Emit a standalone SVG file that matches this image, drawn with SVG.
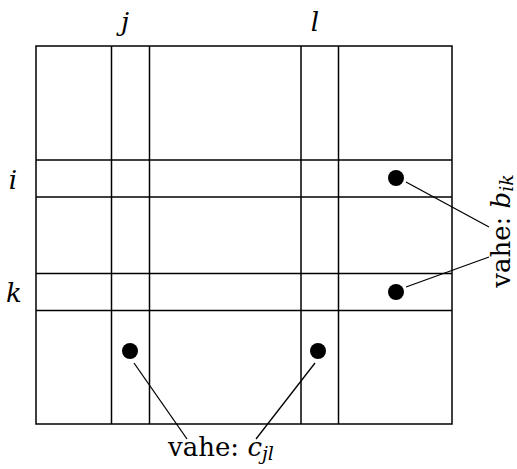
<svg xmlns="http://www.w3.org/2000/svg" width="517" height="469" viewBox="0 0 517 469">
<style>
.g{fill:none;stroke:#000;stroke-width:1.5}
.c{stroke:#000;stroke-width:1.3}
.t{font-family:"DejaVu Serif","Liberation Serif",serif;font-size:26px;fill:#000}
.i{font-style:italic}
</style>
<rect width="517" height="469" fill="#fff"/>
<g id="matrix">
<rect class="g" x="36" y="46" width="416" height="378"/>
<line class="g" x1="111.5" y1="46" x2="111.5" y2="424"/>
<line class="g" x1="149.5" y1="46" x2="149.5" y2="424"/>
<line class="g" x1="301" y1="46" x2="301" y2="424"/>
<line class="g" x1="338.5" y1="46" x2="338.5" y2="424"/>
<line class="g" x1="36" y1="160" x2="452" y2="160"/>
<line class="g" x1="36" y1="197" x2="452" y2="197"/>
<line class="g" x1="36" y1="273.5" x2="452" y2="273.5"/>
<line class="g" x1="36" y1="310.5" x2="452" y2="310.5"/>
</g>
<g id="labels">
<text class="t i" x="125" y="31" text-anchor="middle">j</text>
<text class="t i" x="315" y="31" text-anchor="middle">l</text>
<text class="t i" x="13" y="189" text-anchor="middle">i</text>
<text class="t i" x="14" y="302" text-anchor="middle">k</text>
</g>
<g id="dots">
<circle cx="396" cy="178" r="8"/>
<circle cx="396" cy="292" r="8"/>
<circle cx="130" cy="351" r="8"/>
<circle cx="318" cy="351" r="8"/>
</g>
<g id="connectors">
<line class="c" x1="406" y1="182" x2="489" y2="227"/>
<line class="c" x1="406" y1="287" x2="489" y2="257"/>
<line class="c" x1="134" y1="363" x2="187" y2="439"/>
<line class="c" x1="315" y1="363" x2="256" y2="439"/>
</g>
<g id="label-c">
<text class="t" x="221" y="456" text-anchor="middle">vahe: <tspan class="i">c</tspan><tspan class="i" font-size="19" dy="4">jl</tspan></text>
</g>
<g id="label-b">
<text class="t" transform="translate(510 231) rotate(-90)" text-anchor="middle">vahe: <tspan class="i">b</tspan><tspan class="i" font-size="19" dy="3">ik</tspan></text>
</g>
</svg>
